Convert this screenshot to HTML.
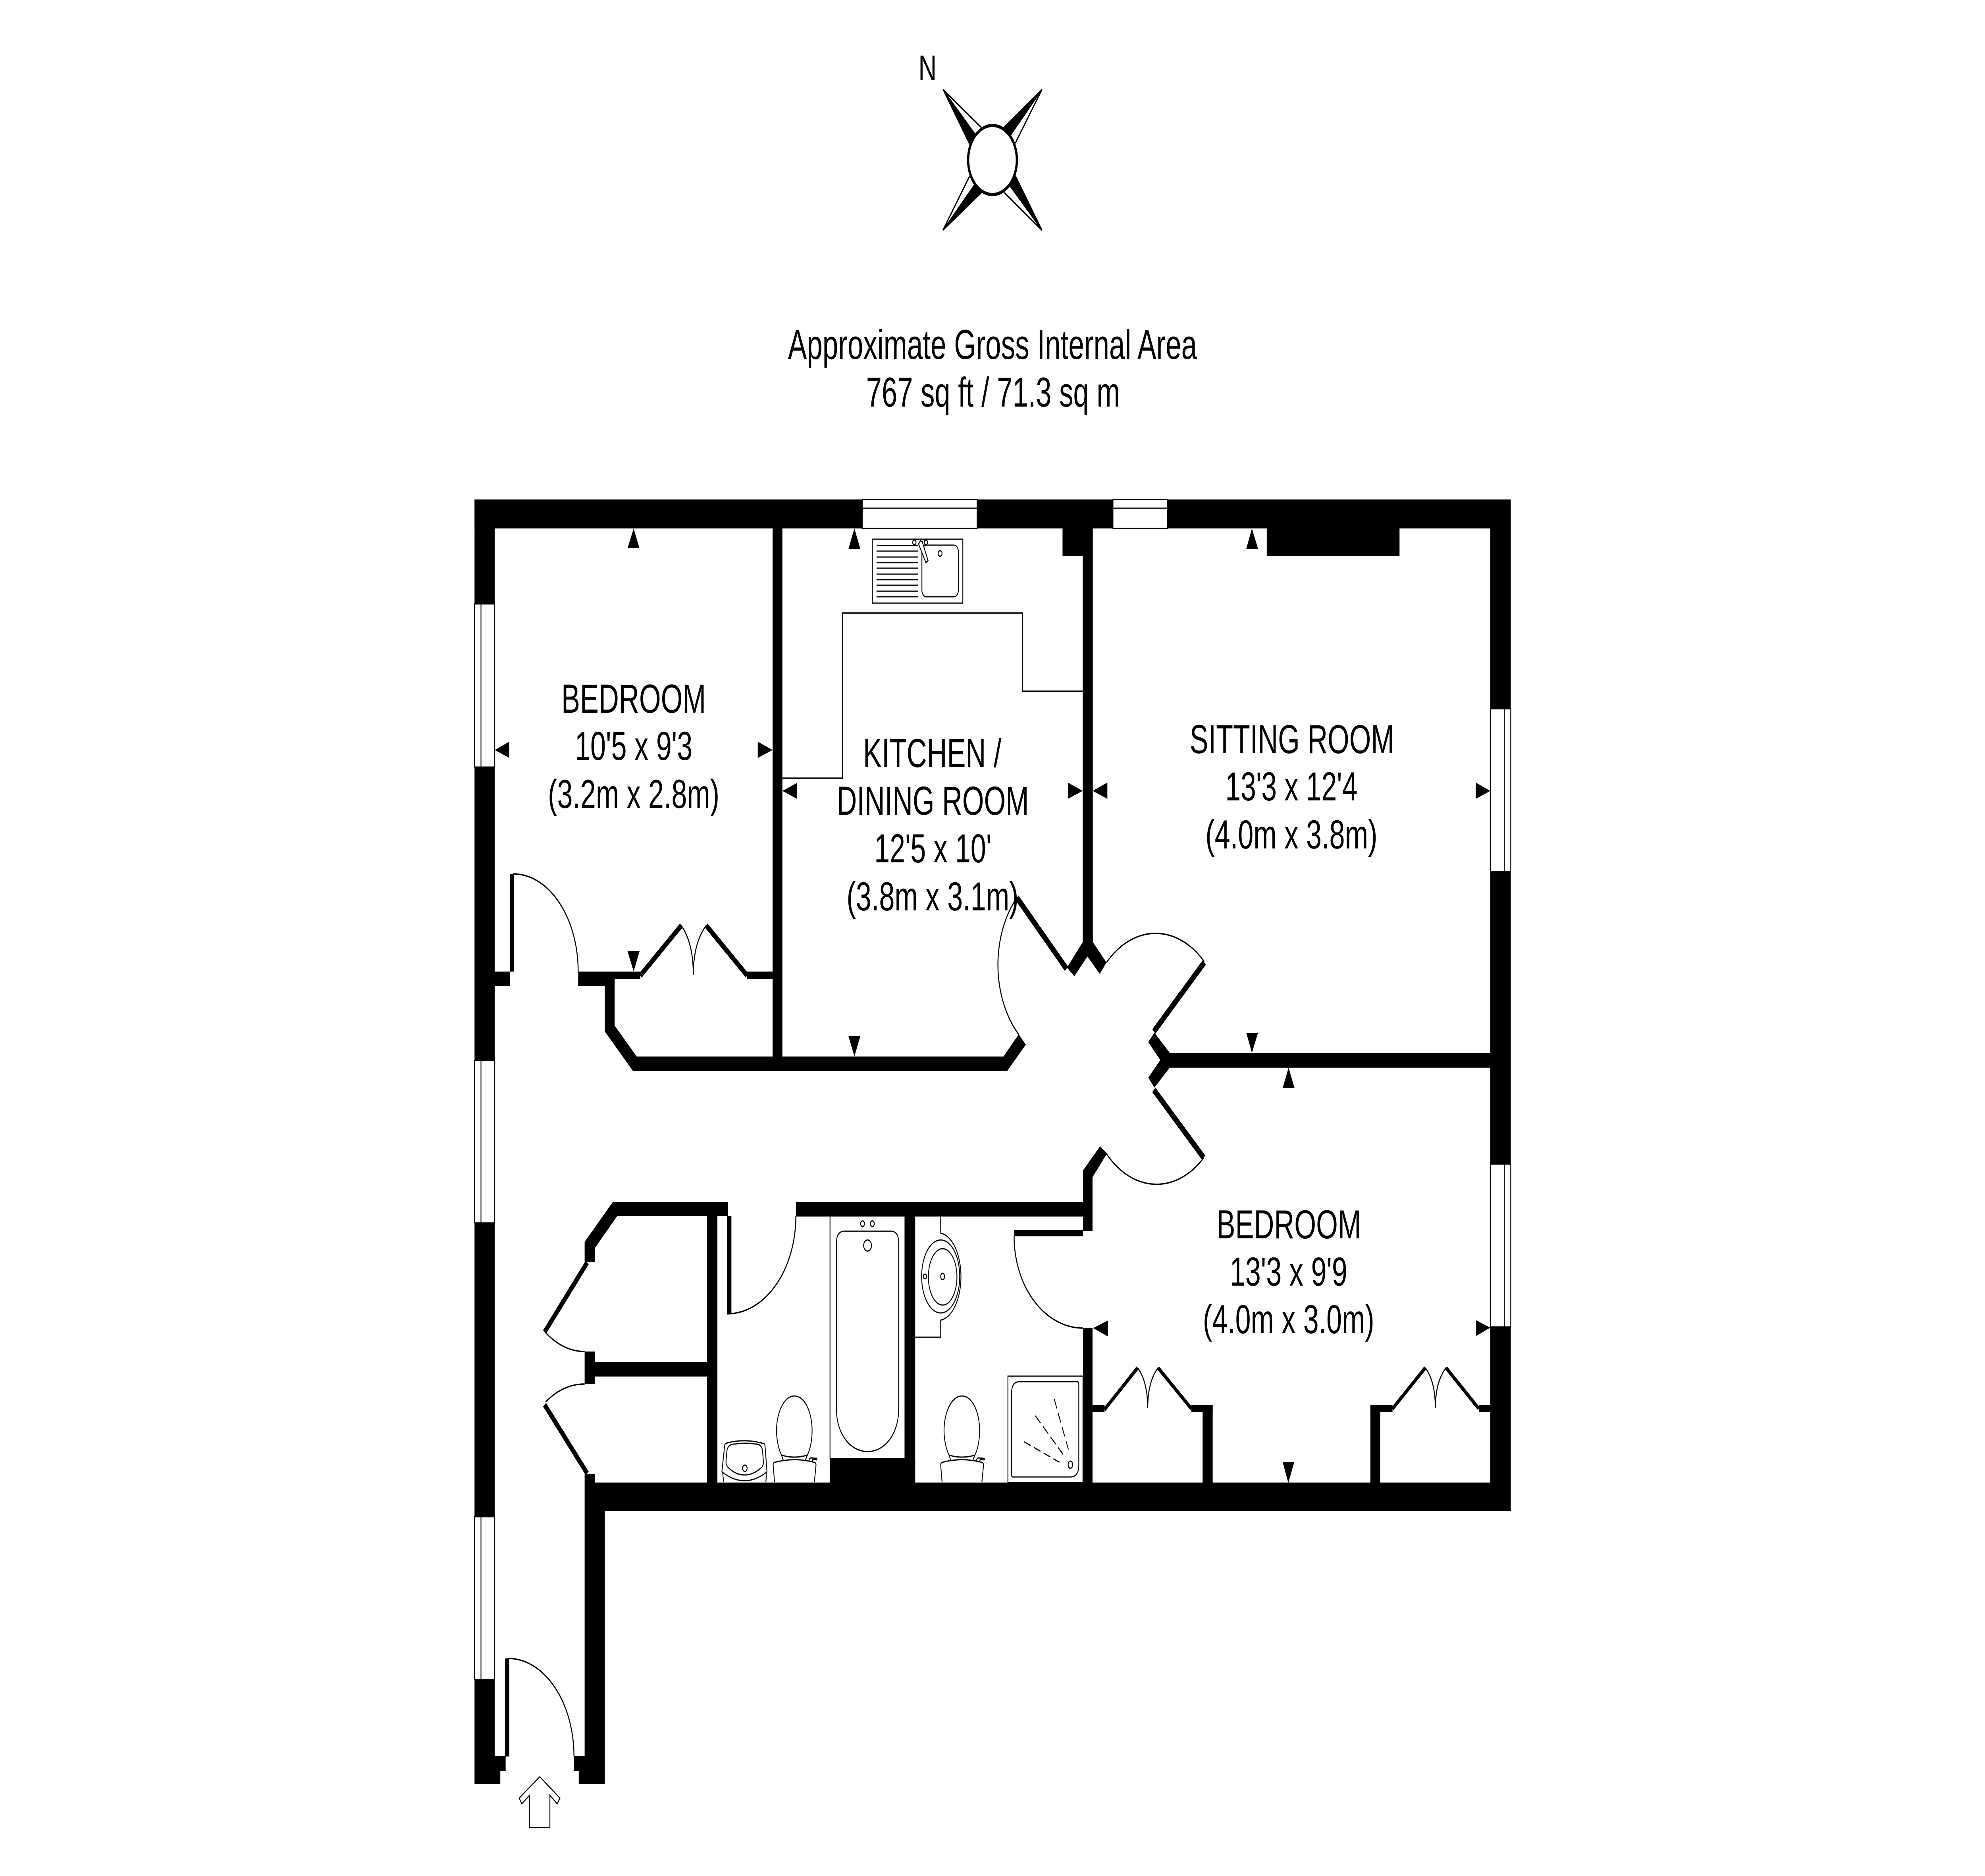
<!DOCTYPE html>
<html lang="en"><head><meta charset="utf-8"><title>Floor plan</title>
<style>html,body{margin:0;padding:0;background:#fff;width:100%;height:100%;overflow:hidden}
svg{display:block;position:fixed;left:0;top:0;width:100vw;height:100vh}
text{font-family:"Liberation Sans",Arial,sans-serif;fill:#000;text-anchor:middle}</style></head>
<body>
<svg xmlns="http://www.w3.org/2000/svg" viewBox="0 0 7086 4725" preserveAspectRatio="none">
<rect width="7086" height="4725" fill="#fff"/>

<!-- compass -->
<g>
<polygon points="3366,225 3461,363 3480,337" fill="#000" stroke="#000" stroke-width="3"/>
<polygon points="3720,225 3583,321 3608,340" fill="#000" stroke="#000" stroke-width="3"/>
<polygon points="3720,580 3626,444 3606,469" fill="#000" stroke="#000" stroke-width="3"/>
<polygon points="3366,580 3504,485 3477,467" fill="#000" stroke="#000" stroke-width="3"/>
<path d="M3366 225L3503 321M3720 225L3624 361M3720 580L3585 485M3366 580L3461 444" stroke="#000" stroke-width="4" fill="none"/>
<circle cx="3543" cy="403" r="87" fill="#fff" stroke="#000" stroke-width="8"/>
</g>
<text x="3311" y="202" font-size="90">N</text>
<text x="3543" y="904" font-size="105" textLength="1460" lengthAdjust="spacingAndGlyphs">Approximate Gross Internal Area</text>
<text x="3545" y="1024" font-size="105" textLength="906" lengthAdjust="spacingAndGlyphs">767 sq ft / 71.3 sq m</text>

<!-- walls -->
<g fill="#000">
<rect x="1694" y="1258" width="3699" height="73"/>
<rect x="1694" y="1258" width="72" height="3236"/>
<rect x="5320" y="1258" width="73" height="2547"/>
<polygon points="1766,4422 1805,4422 1805,4460 1786,4460 1786,4494 1766,4494"/>
<polygon points="2049,4422 2087,4422 2087,3713 2123,3713 2123,3734 5393,3734 5393,3805 2159,3805 2159,4494 2066,4494 2066,4460 2049,4460"/>
<rect x="1766" y="2447" width="55" height="36"/>
<polygon points="2064,2447 2758,2447 2758,2465 2667,2465 2667,2447 2667,2465 2286,2465 2286,2465 2194,2465 2194,2583 2273,2661 3582,2661 3637,2605 3662,2631 3596,2697 2259,2697 2159,2598 2159,2483 2064,2483"/>
<rect x="2286" y="2447" width="381" height="18" fill="#fff"/>
<rect x="2758" y="1331" width="35" height="1340"/>
<rect x="3793" y="1331" width="72" height="70"/>
<rect x="4522" y="1331" width="474" height="70"/>
<polygon points="3865,1331 3901,1331 3901,2373 3950,2424 3926,2453 3882,2409 3835,2459 3809,2437 3865,2373"/>
<polygon points="4121,2601 4176,2652 5320,2652 5320,2689 4176,2689 4121,2739 4099,2714 4142,2670 4099,2625"/>
<polygon points="3927,2887 3952,2905 3900,2965 3900,3100 3866,3100 3866,3064 2841,3064 2841,3028 3866,3028 3866,2948"/>
<rect x="3866" y="3344" width="34" height="400"/>
<rect x="3900" y="3538" width="43" height="18"/>
<rect x="4253" y="3538" width="76" height="18"/>
<rect x="4293" y="3538" width="36" height="200"/>
<rect x="4892" y="3538" width="35" height="200"/>
<rect x="4892" y="3538" width="79" height="18"/>
<rect x="5279" y="3538" width="41" height="18"/>
<rect x="3620" y="3098" width="246" height="16"/>
<polygon points="2087,3128 2187,3028 2598,3028 2598,3063 2203,3063 2123,3144 2123,3179 2087,3179"/>
<rect x="2524" y="3063" width="37" height="680"/>
<rect x="2087" y="3404" width="36" height="82"/>
<rect x="2123" y="3430" width="401" height="37"/>
<rect x="2963" y="3674" width="304" height="70"/>
<rect x="3229" y="3064" width="38" height="680"/>
<rect x="1820" y="2201" width="15" height="246"/>
<rect x="1803" y="4177" width="15" height="247"/>
<rect x="2596" y="3063" width="15" height="247"/>
</g>

<!-- door leaves -->
<g stroke="#000" fill="none" stroke-linecap="butt">
<path d="M2286 2457L2432 2331M2521 2331L2667 2457" stroke-width="14"/>
<path d="M3943 3550L4061 3445M4134 3445L4253 3548M4971 3548L5088 3445M5162 3445L5279 3548" stroke-width="10"/>
<path d="M3630 2261L3807 2440" stroke-width="16"/>
<path d="M4299 2424L4119 2598" stroke-width="16"/>
<path d="M4119 2745L4297 2916" stroke-width="16"/>
<path d="M1944 3355L2096 3180M1944 3538L2096 3711" stroke-width="14"/>
</g>

<!-- thin arcs and lines -->
<g stroke="#000" fill="none" stroke-width="3.5">
<path d="M1832 2201A232 246 0 0 1 2064 2447"/>
<path d="M1814 4177A235 247 0 0 1 2049 4424"/>
<path d="M2596 3309A245 246 0 0 0 2841 3063"/>
<path d="M1946 3355A228 228 0 0 0 2087 3404"/>
<path d="M1948 3531A230 230 0 0 1 2087 3486"/>
<path d="M3630 2261A245 245 0 0 0 3637 2606"/>
<path d="M3950 2424A247 247 0 0 1 4299 2422"/>
<path d="M4297 2916A246 246 0 0 1 3949 2905"/>
<path d="M3620 3114A246 231 0 0 0 3866 3345"/>
<path d="M2432 2331Q2475 2375 2475 2455M2521 2331Q2475 2375 2475 2455"/>
<path d="M4061 3445Q4097 3480 4097 3547M4134 3445Q4097 3480 4097 3547"/>
<path d="M5088 3445Q5124 3480 5124 3547M5162 3445Q5124 3480 5124 3547"/>
<path d="M2793 1960H3008V1544H3650V1741H3865"/>
</g>

<!-- windows -->
<g fill="#fff" stroke="#000" stroke-width="3">
<rect x="1694" y="1521" width="72" height="411"/><path d="M1717 1521V1932"/>
<rect x="1694" y="2671" width="72" height="409"/><path d="M1717 2671V3080"/>
<rect x="1694" y="3820" width="72" height="410"/><path d="M1717 3820V4230"/>
<rect x="3078" y="1258" width="410" height="73"/><path d="M3078 1280H3488"/>
<rect x="3973" y="1258" width="195" height="73"/><path d="M3973 1280H4168"/>
<rect x="5320" y="1785" width="73" height="410"/><path d="M5370 1785V2195"/>
<rect x="5320" y="2932" width="73" height="410"/><path d="M5370 2932V3342"/>
</g>

<!-- dimension arrows -->
<g fill="#000">
<polygon points="2262,1331 2240,1381 2283,1381"/>
<polygon points="2262,2447 2240,2396 2283,2396"/>
<polygon points="1766,1889 1818,1868 1818,1909"/>
<polygon points="2758,1889 2705,1868 2705,1909"/>
<polygon points="3050,1331 3029,1382 3071,1382"/>
<polygon points="3050,2661 3029,2610 3071,2610"/>
<polygon points="2793,1992 2845,1972 2845,2012"/>
<polygon points="3865,1992 3812,1971 3812,2012"/>
<polygon points="3901,1992 3953,1971 3953,2012"/>
<polygon points="4469,1331 4449,1382 4491,1382"/>
<polygon points="4469,2652 4449,2601 4491,2601"/>
<polygon points="5320,1992 5268,1971 5268,2012"/>
<polygon points="4600,2689 4579,2740 4621,2740"/>
<polygon points="4599,3735 4579,3683 4620,3683"/>
<polygon points="3902,3345 3955,3326 3955,3366"/>
<polygon points="5320,3344 5269,3325 5269,3365"/>
</g>

<!-- kitchen sink -->
<g fill="none" stroke="#000" stroke-width="3">
<rect x="3114" y="1358" width="323" height="161"/>
<rect x="3291" y="1373" width="130" height="130" rx="16"/>
<circle cx="3356" cy="1394" r="7"/>
<path d="M3129 1374H3278M3129 1388H3278M3129 1403H3278M3129 1417H3278M3129 1431H3278M3129 1446H3278M3129 1460H3278M3129 1474H3278M3129 1489H3278M3129 1503H3278"/>
<circle cx="3264" cy="1366" r="6"/><circle cx="3305" cy="1366" r="6"/>
<path d="M3279 1370L3286 1362L3292 1364L3313 1412L3305 1417Z" fill="#fff"/>
</g>

<!-- bathroom fixtures -->
<g fill="none" stroke="#000" stroke-width="3">
<path d="M2963 3064V3674H3229"/>
<path d="M2986 3130Q2986 3101 3015 3101L3180 3101Q3208 3101 3208 3130L3208 3550C3208 3610 3160 3656 3097 3656C3034 3656 2986 3610 2986 3550Z"/>
<ellipse cx="3097" cy="3137" rx="14" ry="14"/>
<ellipse cx="3079" cy="3082" rx="7" ry="7"/><ellipse cx="3114" cy="3082" rx="7" ry="7"/>
<path d="M3358 3064V3106A80 110 0 0 1 3358 3325V3368H3267"/>
<ellipse cx="3358" cy="3215" rx="68" ry="92"/>
<ellipse cx="3365" cy="3216" rx="51" ry="71"/>
<ellipse cx="3365" cy="3215" rx="7" ry="8"/>
<ellipse cx="3302" cy="3215" rx="6" ry="6"/>
<rect x="3598" y="3466" width="268" height="268"/>
<path d="M3640 3480H3845Q3851 3480 3851 3486V3690Q3851 3720 3821 3720H3617Q3611 3720 3611 3714V3509Q3611 3480 3640 3480Z"/>
<ellipse cx="3821" cy="3689" rx="8" ry="9"/>
<path d="M3763 3523L3814 3651M3696 3566L3795 3663M3655 3631L3782 3683" stroke-dasharray="26 12"/>
<path d="M2577 3707L2587 3640Q2588 3636 2592 3635Q2657 3622 2727 3636Q2730 3637 2731 3642L2738 3707Q2658 3752 2577 3707Z"/>
<path d="M2580 3710L2583 3733M2736 3710L2734 3733"/>
<path d="M2595 3653Q2600 3636 2625 3637Q2660 3633 2695 3637Q2718 3636 2722 3653L2725 3680Q2726 3690 2720 3695Q2690 3715 2658 3715Q2625 3715 2598 3695Q2590 3688 2592 3678Z"/>
<circle cx="2659" cy="3698" r="8"/>
<g id="wc">
<path d="M2836 3516C2875 3516 2899 3560 2899 3603C2899 3625 2893 3650 2882 3665Q2836 3675 2790 3665C2779 3650 2772 3625 2772 3603C2772 3560 2797 3516 2836 3516Z"/>
<path d="M2790 3665L2797 3680M2882 3665L2875 3678"/>
<path d="M2765 3733L2760 3690Q2760 3684 2766 3683Q2836 3670 2906 3683Q2913 3684 2913 3690L2907 3733"/>
<path d="M2888 3680Q2888 3672 2896 3672L2915 3673Q2918 3676 2915 3677L2902 3675L2898 3682"/>
</g>
<use href="#wc" x="598"/>
</g>

<!-- entry arrow -->
<polygon points="1927,4475 1999,4529 1989,4543 1963,4522 1963,4603 1890,4603 1890,4522 1863,4543 1853,4529" fill="#fff" stroke="#000" stroke-width="3"/>

<!-- labels -->
<g font-size="102">
<text x="2262" y="1795" textLength="516" lengthAdjust="spacingAndGlyphs">BEDROOM</text>
<text x="2262" y="1914" textLength="420" lengthAdjust="spacingAndGlyphs">10'5 x 9'3</text>
<text x="2262" y="2035" textLength="612" lengthAdjust="spacingAndGlyphs">(3.2m x 2.8m)</text>
<text x="3328" y="1932" textLength="494" lengthAdjust="spacingAndGlyphs">KITCHEN /</text>
<text x="3330" y="2052" textLength="686" lengthAdjust="spacingAndGlyphs">DINING ROOM</text>
<text x="3330" y="2172" textLength="418" lengthAdjust="spacingAndGlyphs">12'5 x 10'</text>
<text x="3329" y="2293" textLength="614" lengthAdjust="spacingAndGlyphs">(3.8m x 3.1m)</text>
<text x="4612" y="1897" textLength="730" lengthAdjust="spacingAndGlyphs">SITTING ROOM</text>
<text x="4610" y="2016" textLength="472" lengthAdjust="spacingAndGlyphs">13'3 x 12'4</text>
<text x="4610" y="2137" textLength="614" lengthAdjust="spacingAndGlyphs">(4.0m x 3.8m)</text>
<text x="4601" y="3119" textLength="516" lengthAdjust="spacingAndGlyphs">BEDROOM</text>
<text x="4600" y="3238" textLength="420" lengthAdjust="spacingAndGlyphs">13'3 x 9'9</text>
<text x="4600" y="3358" textLength="612" lengthAdjust="spacingAndGlyphs">(4.0m x 3.0m)</text>
</g>
</svg>
</body></html>
